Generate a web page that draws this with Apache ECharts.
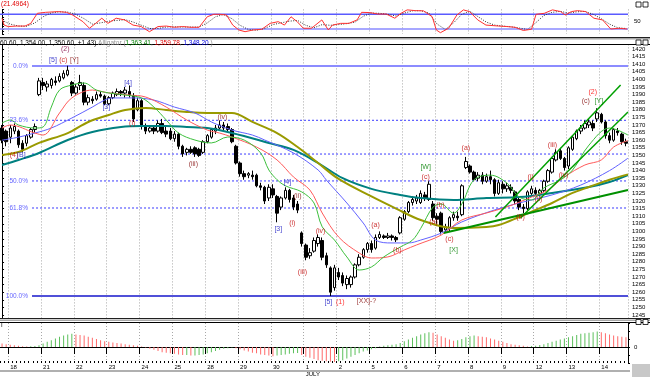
<!DOCTYPE html>
<html>
<head>
<meta charset="utf-8">
<title>Elliott wave chart</title>
<script src="https://cdn.jsdelivr.net/npm/echarts/dist/echarts.min.js"></script>
<style>
  html, body { margin: 0; padding: 0; background: #fff; }
  #chart { width: 650px; height: 377px; }
</style>
</head>
<body>
<div id="chart"></div>
<script>
const FONT = 'Liberation Sans';

// ---- data ----
const barsPerDay = 8;
const firstDayBar = 2;
const dayLabels = ['18', '21', '22', '23', '24', '25', '28', '29', '30', '1', '2', '5', '6', '7', '8', '9', '12', '13', '14'];
const monthLabels = { 9: 'JULY' };

// [open, close, low, high]
const candles = [
  [1368,1360,1358,1370],[1366,1359,1356,1367],[1362,1368,1358,1370],[1366,1369,1364,1371],
  [1366,1357,1355,1367],[1358,1354,1352,1360],[1358,1363,1356,1364],[1362,1367,1361,1368],
  [1367,1369,1365,1371],[1390,1399,1389,1401],[1398,1396,1393,1401],[1395,1397,1392,1399],
  [1396,1400,1394,1401],[1399,1398,1396,1402],[1399,1402,1398,1404],[1401,1404,1400,1406],
  [1403,1406,1402,1409],[1398,1391,1389,1399],[1391,1395,1390,1397],[1396,1398,1393,1403],
  [1396,1385,1383,1398],[1385,1388,1383,1390],[1387,1386,1384,1389],[1387,1390,1386,1392],
  [1390,1389,1388,1392],[1389,1384,1383,1390],[1384,1388,1383,1389],[1388,1391,1387,1392],
  [1390,1392,1389,1394],[1392,1391,1389,1393],[1391,1393,1388,1395],[1392,1390,1388,1396],
  [1389,1374,1372,1391],[1380,1386,1379,1388],[1386,1369,1367,1387],[1369,1366,1364,1371],
  [1366,1368,1365,1370],[1368,1366,1364,1369],[1366,1371,1365,1373],[1371,1365,1364,1374],
  [1366,1364,1362,1369],[1366,1361,1360,1368],[1361,1364,1359,1366],[1364,1356,1354,1365],
  [1356,1351,1349,1357],[1352,1354,1350,1355],[1354,1352,1351,1356],[1355,1351,1349,1356],
  [1354,1350,1349,1355],[1352,1359,1351,1360],[1359,1363,1358,1364],[1362,1367,1361,1368],
  [1366,1368,1364,1370],[1368,1370,1367,1373],[1370,1368,1366,1372],[1369,1367,1365,1371],
  [1367,1359,1358,1368],[1356,1345,1344,1357],[1345,1338,1336,1346],[1338,1336,1334,1340],
  [1337,1338,1335,1339],[1337,1336,1334,1340],[1337,1330,1329,1338],[1330,1329,1327,1332],
  [1329,1320,1318,1330],[1322,1329,1320,1331],[1328,1324,1322,1331],[1323,1312,1306,1324],
  [1316,1322,1314,1323],[1322,1327,1321,1329],[1327,1321,1319,1328],[1322,1316,1314,1324],
  [1318,1314,1312,1320],[1299,1292,1290,1300],[1291,1283,1281,1292],[1284,1286,1282,1289],
  [1287,1294,1286,1296],[1292,1296,1290,1298],[1294,1283,1281,1296],[1284,1278,1276,1286],
  [1276,1260,1257.5,1277],[1263,1276,1261,1278],[1273,1270,1268,1276],[1271,1266,1264,1273],
  [1265,1269,1262,1271],[1265,1270,1263,1271],[1270,1278,1269,1279],[1278,1283,1277,1285],
  [1283,1288,1282,1289],[1288,1292,1286,1293],[1292,1288,1286,1294],[1289,1296,1288,1298],
  [1296,1298,1295,1300],[1297,1296,1295,1298],[1296,1297,1295,1299],[1297,1296,1294,1298],
  [1296,1294.5,1293,1297],[1299,1309,1298,1310],[1308,1313,1307,1314],[1313,1319,1312,1320],
  [1319,1321,1317,1323],[1320,1322,1318,1324],[1319,1325,1318,1327],[1324,1322,1320,1326],
  [1321,1331,1320,1333],[1318,1309,1307,1320],[1310,1308,1305,1312],[1312,1300,1298,1313],
  [1301,1303,1299,1305],[1302,1309,1300,1310],[1309,1311,1307,1313],[1310,1309,1307,1313],
  [1311,1330,1310,1331],[1342,1346,1341,1349],[1343,1339,1338,1344],[1339,1334,1333,1340],
  [1335,1337,1333,1339],[1337,1333,1331,1339],[1333,1336,1332,1338],[1336,1334,1331,1340],
  [1334,1325,1323,1335],[1325,1332,1324,1334],[1331,1328,1325,1333],[1328,1330,1326,1332],
  [1329,1327,1325,1331],[1326,1320,1318,1327],[1321,1316,1314,1322],[1316,1315,1312,1318],
  [1315,1326,1314,1327],[1325,1328,1324,1330],[1327,1325,1324,1329],[1325,1327,1323,1328],
  [1327,1333,1326,1334],[1333,1340,1332,1341],[1339,1348,1338,1349],[1347,1352,1346,1354],
  [1353,1348,1347,1355],[1348,1342,1340,1349],[1343,1355,1341,1356],[1354,1362,1353,1363],
  [1361,1366,1360,1367],[1366,1368,1364,1370],[1368,1371,1367,1373],[1370,1372,1368,1374],
  [1371,1368,1366,1373],[1374,1378,1372,1381],[1377,1372,1371,1378],[1372,1363,1361,1373],
  [1363,1360,1358,1365],[1360,1367,1359,1368],[1366,1365,1363,1368],[1364,1359,1357,1365],
  [1359,1358,1356,1361]
];

// Alligator and the two slow averages, [bar, price]
const lips = [[0,1371.3],[2,1373.3],[4,1370],[8,1368],[10,1368.7],[12,1381.8],[14,1393],[17,1396.3],[20,1397.6],[23,1393],[26,1391.1],[30,1389.7],[34,1387.8],[37,1381.8],[40,1373.3],[43,1364.7],[47,1360.1],[51,1358.2],[55,1362.1],[59,1360.1],[63,1351.6],[65,1340.4],[67,1334],[69,1330],[73,1326],[76,1318.7],[78,1303],[81,1294.3],[84,1283.2],[87,1274.6],[90,1276.6],[93,1283.2],[97,1289.7],[100,1294.3],[102,1302],[105,1316],[107,1318],[110,1312],[112,1318],[115,1334],[119,1337],[123,1331.8],[126,1322.6],[129,1320.7],[132,1328.6],[136,1333.8],[139,1340.4],[143,1356.8],[148,1368],[152.5,1363.4]];
const teeth = [[0,1368],[2,1370],[8,1364.7],[10,1363.4],[14,1377.9],[17,1387.8],[22,1393],[26,1391.1],[31,1389.7],[35,1388.4],[40,1381.8],[45,1373.3],[50,1366.7],[53,1364.7],[56,1362.1],[62,1355.5],[67,1347],[71,1335.8],[75,1327.2],[78,1312.1],[82,1296.3],[87,1285.8],[90,1282.5],[94,1283.2],[98,1287.8],[101,1291.1],[107,1297.6],[112,1307.5],[118,1312.1],[123,1316.1],[129,1322.6],[133,1327.2],[137,1335.8],[142,1343.7],[146,1347],[149,1355.5],[152.5,1359.8]];
const jaw = [[0,1360],[4,1362],[8,1364.7],[12,1368],[17,1374.6],[22,1381.8],[25,1386.4],[27,1387.8],[32,1387.8],[37,1386.4],[42,1381.8],[47,1377.9],[51,1372],[56,1366.7],[61,1363.4],[64,1360.1],[71,1351.6],[77,1340.4],[79,1333.8],[84,1318.7],[88,1305.5],[91,1294.3],[95,1292.4],[99,1292.4],[102,1294.3],[107,1298.9],[112,1306.2],[120,1314.1],[126,1318.7],[134,1324],[141,1330.5],[148,1340],[152.5,1348.2]];
const maSlow = [[0,1350.3],[4,1352.2],[9,1358.2],[16,1364.7],[21,1372],[26,1376.6],[30,1379.9],[35,1381.2],[40,1379.9],[45,1378.6],[50,1377.9],[56,1377.9],[61,1372],[67,1364.7],[72,1355.5],[77,1345],[82,1334.5],[90,1323],[96,1315],[102,1307.5],[110,1302.2],[118,1302.9],[121,1304.2],[126,1309.5],[130,1314.1],[134,1318.7],[139,1325.3],[143,1329.2],[148,1334],[152.5,1337.5]];
const maLong = [[0,1343.7],[4,1347],[9,1351.6],[16,1360.1],[22,1365.4],[29,1368.7],[34,1369.3],[40,1369.3],[45,1368.7],[50,1368],[56,1364.7],[65,1358.2],[71,1353.6],[77,1345],[83,1335],[90,1328],[97,1324],[102,1322],[110,1320.7],[118,1322],[126,1322.6],[134,1325.3],[143,1329.2],[148,1332.5],[152.5,1337]];

// hand-drawn trend lines, [bar, price] end points
const channelUpper = [[120.2,1309.5],[150.7,1396.3]];
const channelLower = [[126.3,1308.8],[152.5,1378.6]];
const supportLine = [[107.6,1299],[152.5,1327.2]];

// Fibonacci retracement of the (2) high to the low
const fibLevels = [1408.8, 1373.1, 1350.9, 1333.2, 1315.4, 1257.5];
const fibNames = ['0.0%', '23.6%', '', '50.0%', '61.8%', '100.0%'];

// wave labels: [text, bar, price, degree]
const waveLabels = [
  ['(2)', 15.4, 1420, 'p'], ['[5]', 12.4, 1412.8, 'b'], ['(c)', 14.9, 1412.8, 'r'], ['[Y]', 17.6, 1412.8, 'm'],
  ['[4]', 30.7, 1397.6, 'b'], ['[3]', 25.4, 1381.8, 'b'], ['(i)', 31.7, 1371.3, 'r'], ['(iv)', 53.7, 1375.3, 'm'],
  ['(4)', 2.9, 1350.3, 'r'], ['[B]', 4.7, 1350.3, 'b'], ['(iii)', 46.6, 1344.3, 'm'],
  ['[4]', 69.5, 1332.5, 'b'], ['(ii)', 72, 1323.3, 'm'], ['[3]', 67.3, 1301.6, 'b'], ['(i)', 70.7, 1305.5, 'r'],
  ['(iv)', 77.6, 1300.3, 'r'], ['(iii)', 73.2, 1273.3, 'r'],
  ['[5]', 79.5, 1253.6, 'b'], ['(1)', 82.4, 1253.6, 'f'], ['[XX]-?', 88.8, 1254.2, 'm'],
  ['(a)', 91, 1304.2, 'r'], ['(b)', 96.3, 1287.8, 'r'],
  ['[W]', 103.2, 1342.4, 'g'], ['(c)', 103.2, 1335.8, 'r'], ['(b)', 106.8, 1317.4, 'r'], ['(a)', 105.1, 1306.2, 'r'],
  ['(c)', 109, 1295, 'r'], ['[X]', 110, 1287.8, 'g'], ['(a)', 113, 1354.9, 'r'], ['(b)', 126.3, 1309.5, 'r'],
  ['(i)', 128.8, 1335.8, 'r'], ['(ii)', 130.7, 1321.3, 'r'], ['(iii)', 134.1, 1356.8, 'r'], ['(iv)', 136.8, 1337.1, 'r'],
  ['(2)', 143.9, 1391.7, 'f'], ['(c)', 142.2, 1385.8, 'm'], ['[Y]', 145.4, 1385.8, 'g']
];

// stochastic %K and %D, [bar, value]
const stochK = [[0,64],[0.5,36],[1.5,30],[3.5,32],[5.6,32],[7,43],[8.6,84],[10.6,88],[13.7,91],[15.7,88],[17.2,77],[19.7,50],[21.3,23],[22.8,43],[24.3,64],[25.8,43],[27.8,64],[29.9,57],[31.9,36],[33.9,30],[35.9,9],[38,30],[40,32],[42,27],[44,30],[46,27],[48,27],[50,70],[51.6,80],[53.1,80],[54.7,77],[56.2,36],[57.7,16],[59.2,9],[61.2,16],[63.3,19],[65.3,43],[67.3,50],[68.8,36],[70.4,70],[71.9,50],[73.4,23],[75.4,23],[77.9,57],[79.5,16],[80.5,36],[82.5,43],[84.5,43],[86.5,57],[87.6,88],[89.6,87],[91.6,81],[93.6,81],[95.7,64],[97.2,84],[98.7,98],[100.7,95],[102.7,94],[104.8,70],[105.8,16],[106.8,5],[108.8,23],[110.8,77],[112.4,98],[113.9,91],[115.9,57],[117.9,36],[121,32],[123,30],[125,27],[127,14],[129,19],[130.1,80],[132.1,84],[134.1,98],[136.1,91],[137.2,77],[138.7,91],[140.2,95],[142.2,91],[144.2,64],[146.3,57],[148.3,20],[150.3,23],[152.3,20]];
const stochD = [[0,55],[2,40],[4,32],[6,31],[8,45],[10,70],[12,86],[14,90],[16,89],[18,80],[20,62],[22,40],[24,45],[26,52],[28,55],[30,58],[32,48],[34,35],[36,22],[38,22],[40,28],[42,29],[44,28],[46,28],[48,28],[50,45],[52,70],[54,79],[56,62],[58,35],[60,18],[62,15],[64,22],[66,38],[68,45],[70,52],[72,55],[74,35],[76,25],[78,38],[80,35],[82,38],[84,42],[86,48],[88,72],[90,85],[92,84],[94,80],[96,73],[98,85],[100,94],[102,95],[104,85],[106,40],[108,18],[110,45],[112,80],[114,92],[116,70],[118,48],[120,36],[122,32],[124,29],[126,24],[128,18],[130,45],[132,75],[134,88],[136,92],[138,85],[140,90],[142,92],[144,80],[146,62],[148,40],[150,25],[152,22]];

// awesome oscillator histogram, one value per bar
const aoValues = [
  3, 2.5, 2, 1.5,
  1, 0.7, 0.5, 0.6, 0.8,
  1.5, 3, 4.5, 6, 7.5, 9, 10, 11, 11.5,
  11, 10.5, 10, 9, 8, 7, 6, 5, 4.5, 4, 3.5, 3, 2.5, 2, 1.5, 1, 0.5,
  -0.5, -1.5, -2.5, -3.5, -4.5, -5, -5.5, -6, -6.5, -7, -7, -7.5, -7.5,
  -7, -6.5, -5.5, -4.5, -3.5, -2.5, -1.5, -1, -0.5,
  -1, -2, -3, -4, -5, -5.5, -6.5, -7, -7.5, -8,
  -7.5, -7, -6.5, -6, -5.5, -5.2,
  -7, -8.5, -9.5, -10.5, -11.5, -12, -12.5, -13, -13.2,
  -12.5, -11.5, -10, -8.5, -7, -5.5, -4, -3,
  -2, -1, 0.5, 1, 1.5, 2, 2.5,
  3.5, 5, 6.5, 8, 9.5, 11, 12, 13,
  12.5, 11, 9.5, 8, 6.5, 5.5,
  6, 7, 8.5, 9.5, 10,
  9.5, 9, 8.5, 7.5, 6.5, 5.5, 4.5, 3.5, 2.5, 2, 1.5, 1, 0.5,
  0.8, 1.2, 1.8, 2.5, 3.5,
  4.5, 5.5, 6.5, 7.5, 8.5, 9.5, 10.5, 11.5, 12, 12.5, 13, 13.5,
  13, 12, 11, 10, 9.5, 9, 8.5
];

// ---- chart ----
const chartDom = document.getElementById('chart');
const myChart = echarts.init(chartDom, null, { renderer: 'canvas' });

const N = candles.length;
const categories = candles.map((_, i) => String(i));
const isDayStart = (i) => i >= firstDayBar && (i - firstDayBar) % barsPerDay === 0;
const dayOf = (i) => (i - firstDayBar) / barsPerDay;

const degColor = { b: '#1010c0', r: '#c00000', m: '#800000', g: '#008000', p: '#800040', f: '#ff0000' };
const gridLine = { show: true, interval: (i) => isDayStart(i), lineStyle: { color: '#a8a8a8', type: [1, 2], width: 1 } };

const catAxis = (gridIndex, extra) => Object.assign({
  type: 'category', gridIndex, data: categories, boundaryGap: true,
  axisLine: { show: false }, axisTick: { show: false }, axisLabel: { show: false },
  splitLine: gridLine
}, extra || {});
const valAxis = (gridIndex) => ({
  type: 'value', gridIndex, min: -0.5, max: N - 0.5, show: false, splitLine: { show: false }
});

const sparseLine = (data, color, width, extra) => Object.assign({
  type: 'line', xAxisIndex: 3, yAxisIndex: 1, data, symbol: 'none', smooth: 0.35,
  lineStyle: { color, width }, silent: true, z: 4, animation: false
}, extra || {});

const option = {
  animation: false,
  backgroundColor: '#fff',
  textStyle: { fontFamily: FONT },
  grid: [
    { left: 0, width: 628, top: 9.4, height: 24.5, outerBoundsMode: 'none' },
    { left: 0, width: 628, top: 41.4, height: 281.2, outerBoundsMode: 'none' },
    { left: 0, width: 628, top: 323, height: 40, outerBoundsMode: 'none' }
  ],
  xAxis: [
    catAxis(0),
    valAxis(0),
    catAxis(1),
    valAxis(1),
    catAxis(2, {
      position: 'bottom',
      axisLine: { show: true, lineStyle: { color: '#000', width: 1 } },
      axisTick: { show: true, interval: (i) => isDayStart(i), length: 7, inside: false, lineStyle: { color: '#000' } },
      axisLabel: {
        show: true, interval: (i) => isDayStart(i), align: 'left', margin: 1,
        fontSize: 6, color: '#000', fontFamily: FONT, lineHeight: 7,
        formatter: (v, i) => {
          const k = dayOf(i);
          return monthLabels[k] ? dayLabels[k] + '\n' + monthLabels[k] : dayLabels[k];
        }
      }
    }),
    catAxis(2, {
      position: 'bottom', splitLine: { show: false },
      axisTick: { show: true, interval: 0, length: 2, inside: true, lineStyle: { color: '#000' } }
    })
  ],
  yAxis: [
    {
      type: 'value', gridIndex: 0, position: 'right', min: 0, max: 100, interval: 10,
      axisLine: { show: true, lineStyle: { color: '#000' } },
      axisTick: { show: true, length: 2, lineStyle: { color: '#000' } },
      axisLabel: { fontSize: 6, color: '#000', margin: 6, formatter: (v) => (v === 50 ? '50' : '') },
      splitLine: { show: false }
    },
    {
      type: 'value', gridIndex: 1, position: 'right', min: 1240, max: 1425, interval: 5,
      axisLine: { show: true, lineStyle: { color: '#000' } },
      axisTick: { show: true, length: 2, lineStyle: { color: '#000' } },
      axisLabel: {
        fontSize: 6, color: '#000', margin: 4, showMinLabel: false, showMaxLabel: false, hideOverlap: false,
        formatter: (v) => String(v)
      },
      splitLine: { show: false }
    },
    {
      type: 'value', gridIndex: 2, position: 'right', min: -14, max: 21, interval: 7,
      axisLine: { show: true, lineStyle: { color: '#000' } },
      axisTick: { show: true, length: 2, lineStyle: { color: '#000' } },
      axisLabel: { fontSize: 6, color: '#000', margin: 6, formatter: (v) => (v === 0 ? '0' : '') },
      splitLine: { show: false }
    }
  ],
  series: [
    // stochastic panel
    {
      type: 'line', xAxisIndex: 1, yAxisIndex: 0, data: [[-0.5, 80], [N - 0.5, 80]], symbol: 'none',
      lineStyle: { color: '#5a5aff', width: 1.5 }, silent: true
    },
    {
      type: 'line', xAxisIndex: 1, yAxisIndex: 0, data: [[-0.5, 20], [N - 0.5, 20]], symbol: 'none',
      lineStyle: { color: '#8a8aff', width: 1.5 }, silent: true
    },
    {
      type: 'line', xAxisIndex: 1, yAxisIndex: 0, data: stochD, symbol: 'none',
      lineStyle: { color: '#303030', width: 1, type: [1, 1.5] }, silent: true
    },
    {
      type: 'line', xAxisIndex: 1, yAxisIndex: 0, data: stochK, symbol: 'none',
      lineStyle: { color: '#ff3030', width: 1 }, silent: true
    },

    // fibonacci levels
    ...fibLevels.map((lv, k) => ({
      type: 'line', xAxisIndex: 3, yAxisIndex: 1, data: [[7.3, lv], [N - 0.5, lv]], symbol: 'none', silent: true, z: 1,
      lineStyle: k === 0 ? { color: '#8c8cff', width: 2 }
        : k === fibLevels.length - 1 ? { color: '#5050d8', width: 2 }
        : { color: '#3a3aff', width: 1, type: [2, 2] }
    })),
    {
      type: 'scatter', xAxisIndex: 3, yAxisIndex: 1, symbolSize: 0, silent: true, z: 6,
      data: fibLevels.map((lv, k) => ({ value: [6.3, lv], label: { formatter: fibNames[k] } })),
      label: { show: true, position: 'left', distance: 0, fontSize: 6.5, color: '#3a3aff', fontFamily: FONT }
    },

    // price
    {
      type: 'candlestick', xAxisIndex: 2, yAxisIndex: 1, data: candles, barWidth: 3, z: 3,
      itemStyle: { color: '#fff', color0: '#000', borderColor: '#000', borderColor0: '#000', borderWidth: 1 }
    },

    // averages
    sparseLine(maLong, '#008080', 2),
    sparseLine(maSlow, '#9a9a00', 2),
    sparseLine(jaw, '#6262ff', 1),
    sparseLine(teeth, '#ff5a5a', 1),
    sparseLine(lips, '#3cc03c', 1),

    // trend lines
    sparseLine(channelUpper, '#00a000', 1.5, { smooth: false, z: 5 }),
    sparseLine(channelLower, '#00a000', 1.5, { smooth: false, z: 5 }),
    sparseLine(supportLine, '#009000', 2, { smooth: false, z: 5 }),

    // wave labels
    {
      type: 'scatter', xAxisIndex: 3, yAxisIndex: 1, symbolSize: 0, silent: true, z: 8,
      data: waveLabels.map(([t, x, y, d]) => ({ value: [x, y], label: { formatter: t, color: degColor[d] } })),
      label: { show: true, position: 'inside', fontSize: 7, fontFamily: FONT }
    },

    // awesome oscillator
    {
      type: 'bar', xAxisIndex: 4, yAxisIndex: 2, barWidth: 1, silent: true,
      data: aoValues.map((v, i) => ({
        value: v,
        itemStyle: { color: i > 0 && v >= aoValues[i - 1] ? '#5cc05c' : '#ff6a6a' }
      }))
    }
  ],
  graphic: [
    { type: 'rect', z: 100, shape: { x: 0, y: 37, width: 650, height: 8 }, style: { fill: '#fff' } },
    { type: 'rect', z: 101, shape: { x: 0, y: 37, width: 650, height: 1 }, style: { fill: '#202020' } },
    { type: 'rect', z: 101, shape: { x: 0, y: 38, width: 650, height: 1.5 }, style: { fill: '#a8a8a8' } },
    { type: 'rect', z: 101, shape: { x: 0, y: 44, width: 650, height: 1 }, style: { fill: '#000' } },
    {
      type: 'text', z: 102, left: 0, top: 39.5,
      style: {
        text: '{k|60.60, 1,354.00, 1,350.60, +1.43)} {s|Alligator (}{g|1,363.41}{s|, }{r|1,359.78}{s|, }{b|1,348.20}{s| )}',
        fontSize: 6.5, fontFamily: FONT,
        rich: {
          k: { fill: '#000', fontSize: 6.5, fontFamily: FONT },
          s: { fill: '#909090', fontSize: 6.5, fontFamily: FONT },
          g: { fill: '#008000', fontSize: 6.5, fontFamily: FONT },
          r: { fill: '#e00000', fontSize: 6.5, fontFamily: FONT },
          b: { fill: '#0000e0', fontSize: 6.5, fontFamily: FONT }
        }
      }
    },
    { type: 'text', z: 102, left: 1, top: 1, style: { text: '(21.4964)', fill: '#e00000', fontSize: 6.5, fontFamily: FONT } },

    { type: 'rect', z: 100, shape: { x: 0, y: 318, width: 650, height: 5 }, style: { fill: '#fff' } },
    { type: 'rect', z: 101, shape: { x: 0, y: 318, width: 650, height: 1 }, style: { fill: '#202020' } },
    { type: 'rect', z: 101, shape: { x: 0, y: 319.5, width: 650, height: 1.5 }, style: { fill: '#a8a8a8' } },
    { type: 'rect', z: 101, shape: { x: 0, y: 322, width: 650, height: 1 }, style: { fill: '#000' } },
    { type: 'text', z: 102, left: 1, top: 322.5, style: { text: 'I', fill: '#000', fontSize: 6, fontFamily: FONT } },

    // window buttons
    ...[2, 40, 319.5].flatMap((y) => [
      { type: 'rect', z: 103, shape: { x: 636, y, width: 5, height: 5 }, style: { fill: '#fff', stroke: '#000', lineWidth: 0.8 } },
      { type: 'rect', z: 103, shape: { x: 643, y, width: 5, height: 5 }, style: { fill: '#fff', stroke: '#000', lineWidth: 0.8 } }
    ]),

    // scroll bar under the date axis
    { type: 'rect', z: 100, shape: { x: 0, y: 370, width: 630, height: 2 }, style: { fill: '#b0b0b0' } },
    { type: 'rect', z: 100, shape: { x: 632, y: 364, width: 18, height: 13 }, style: { fill: '#c8c8c8' } }
  ]
};

myChart.setOption(option);
</script>
</body>
</html>
